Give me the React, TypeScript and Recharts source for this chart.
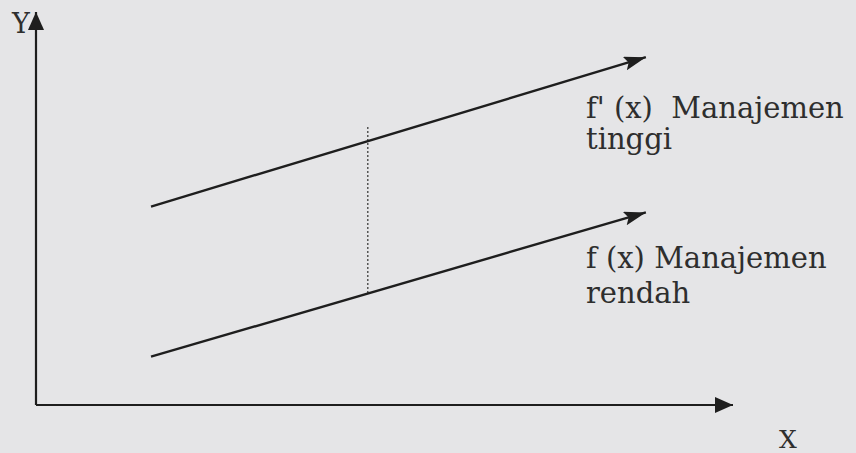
import React from "react";
import { LineChart, Line, XAxis, YAxis } from "recharts";

// Conceptual units (0..100 on both axes)
const lineX = [16.5, 87.5];
const tinggiY = [50.5, 88.5];
const rendahY = [12.3, 49];
const dottedX = [47.6, 47.6];
const dottedY = [28.5, 71];

const labelTinggi = ["f' (x)  Manajemen", "tinggi"];
const labelRendah = ["f (x) Manajemen", "rendah"];
const axisNames = ["X", "Y"];

const tinggiData = lineX.map((x, i) => ({ x, y: tinggiY[i] }));
const rendahData = lineX.map((x, i) => ({ x, y: rendahY[i] }));
const dottedData = dottedX.map((x, i) => ({ x, y: dottedY[i] }));

const INK = "#1e1e1e";
const TEXT = "#2e2e2e";
const FONT = "'DejaVu Serif', 'Liberation Serif', serif";

export default function App() {
  return (
    <div
      style={{
        position: "absolute",
        left: 0,
        top: 0,
        width: 856,
        height: 453,
        background: "#e5e5e7",
        overflow: "hidden",
      }}
    >
      <svg width={0} height={0} style={{ position: "absolute" }}>
        <defs>
          <marker
            id="arrLine"
            markerUnits="userSpaceOnUse"
            markerWidth={24}
            markerHeight={16}
            refX={22}
            refY={7}
            orient="auto"
          >
            <path d="M0,0 L22,7 L0,14 L4,7 z" fill={INK} />
          </marker>
          <marker
            id="arrAxis"
            markerUnits="userSpaceOnUse"
            markerWidth={20}
            markerHeight={18}
            refX={18}
            refY={8}
            orient="auto-start-reverse"
          >
            <path d="M0,0 L18,8 L0,16 z" fill={INK} />
          </marker>
        </defs>
      </svg>
      <LineChart
        width={856}
        height={453}
        margin={{ top: 12, right: 123, bottom: 18, left: 6 }}
      >
        <XAxis
          type="number"
          dataKey="x"
          domain={[0, 100]}
          allowDataOverflow
          height={30}
          tick={false}
          tickLine={false}
          axisLine={{ stroke: INK, strokeWidth: 2.2, markerEnd: "url(#arrAxis)" }}
        />
        <YAxis
          type="number"
          dataKey="y"
          domain={[0, 100]}
          allowDataOverflow
          width={30}
          tick={false}
          tickLine={false}
          axisLine={{ stroke: INK, strokeWidth: 2.2, markerStart: "url(#arrAxis)" }}
        />
        <Line
          data={dottedData}
          dataKey="y"
          stroke="#555"
          strokeWidth={1.5}
          strokeDasharray="2 2"
          dot={false}
          activeDot={false}
          isAnimationActive={false}
        />
        <Line
          data={tinggiData}
          dataKey="y"
          stroke={INK}
          strokeWidth={2.4}
          dot={false}
          activeDot={false}
          markerEnd="url(#arrLine)"
          isAnimationActive={false}
        />
        <Line
          data={rendahData}
          dataKey="y"
          stroke={INK}
          strokeWidth={2.4}
          dot={false}
          activeDot={false}
          markerEnd="url(#arrLine)"
          isAnimationActive={false}
        />
        <g fontFamily={FONT} fill={TEXT}>
          <text x={586} y={118} fontSize={29} xmlSpace="preserve" style={{ whiteSpace: "pre" }}>{labelTinggi[0]}</text>
          <text x={586} y={149} fontSize={29}>{labelTinggi[1]}</text>
          <text x={586} y={268} fontSize={29}>{labelRendah[0]}</text>
          <text x={586} y={303} fontSize={29}>{labelRendah[1]}</text>
          <text x={12} y={33} fontSize={27}>{axisNames[1]}</text>
          <text x={779} y={448} fontSize={25}>{axisNames[0]}</text>
        </g>
      </LineChart>
    </div>
  );
}
